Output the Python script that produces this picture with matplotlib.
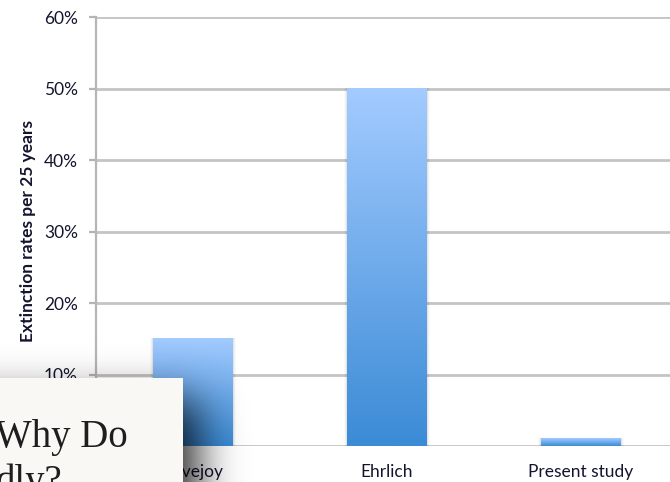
import math
import numpy as np
import matplotlib
matplotlib.use("Agg")
import matplotlib.pyplot as plt
from matplotlib.colors import LinearSegmentedColormap
from matplotlib.patches import Rectangle

categories = ["Lovejoy", "Ehrlich", "Present study"]
values = [15, 50, 1.1]
yticks = [0, 10, 20, 30, 40, 50, 60]
ytick_labels = ["0%", "10%", "20%", "30%", "40%", "50%", "60%"]
ylabel = "Extinction rates per 25 years"
overlay_lines = ["Why Do", "dly?"]

W, H = 670, 482
fig = plt.figure(figsize=(W / 100, H / 100), dpi=100)
fig.patch.set_facecolor("white")
ax = fig.add_axes([96 / W, 36 / H, 582 / W, 429 / H])
ax.set_xlim(-0.5, 2.5)
ax.set_ylim(0, 60)

grid_c = "#c4c4c4"
for s in ["top", "right", "bottom"]:
    ax.spines[s].set_visible(False)
ax.spines["left"].set_color("#b5b5b5")
ax.spines["left"].set_linewidth(1.6)
for y in yticks:
    ax.axhline(y, color=grid_c, lw=2.0, zorder=1)

lab_font = ["Lato", "DejaVu Sans"]
ax.set_yticks(yticks)
ax.set_yticklabels(ytick_labels)
ax.tick_params(axis="y", length=5, width=1.6, color="#b5b5b5", pad=8,
               labelsize=12.5, labelcolor="#14142e")
ax.set_xticks(range(len(categories)))
ax.set_xticklabels(categories)
ax.tick_params(axis="x", length=0, pad=13, labelsize=12.5, labelcolor="#14142e")
for lab in ax.get_xticklabels() + ax.get_yticklabels():
    lab.set_family(lab_font)
ax.set_ylabel(ylabel, fontsize=12.5, fontweight="bold", color="#14142e",
              family=lab_font)
ax.yaxis.set_label_coords(-60 / 582, 0.5)

cmap = LinearSegmentedColormap.from_list("g", ["#3b8bd6", "#a3cbff"])
grad = np.linspace(0, 1, 256).reshape(-1, 1)
bw = 0.41
for i, v in enumerate(values):
    for k, a in enumerate([0.05, 0.035, 0.02]):
        d = 0.005 * (k + 1)
        ax.add_patch(Rectangle((i - bw / 2 - d, 0), bw + 2 * d, v + d * 8,
                               color="black", alpha=a, lw=0, zorder=2))
    ax.imshow(grad, extent=(i - bw / 2, i + bw / 2, 0, v), origin="lower",
              cmap=cmap, aspect="auto", zorder=3)
ax.set_xlim(-0.5, 2.5)
ax.set_ylim(0, 60)

# blurred drop shadow of the overlay page box
erf = np.vectorize(math.erf)
xs = np.arange(W) + 0.5
ys = np.arange(H) + 0.5
box_r, box_t = 183, 378
off_x, off_y, sig = 14, 22, 22
fx = 0.5 * (1 - erf((xs - (box_r + off_x)) / (sig * math.sqrt(2))))
fy = 0.5 * (1 + erf((ys - (box_t + off_y)) / (sig * math.sqrt(2))))
alpha = 0.85 * np.outer(fy, fx)
shadow = np.zeros((H, W, 4))
shadow[..., 3] = alpha
fig.figimage(shadow, xo=0, yo=0, origin="upper", zorder=9)

fig.patches.append(Rectangle((0, 0), box_r / W, (H - box_t) / H, transform=fig.transFigure,
                             facecolor="#faf8f4", edgecolor="none", zorder=10))
serif = ["Liberation Serif", "DejaVu Serif"]
fig.text(-5 / W, (H - 447) / H, overlay_lines[0], fontsize=28, family=serif,
         color="#1e1e1e", ha="left", va="baseline", zorder=11)
fig.text(-4 / W, (H - 492) / H, overlay_lines[1], fontsize=28, family=serif,
         color="#1e1e1e", ha="left", va="baseline", zorder=11)

fig.savefig("out.png", dpi=100)
